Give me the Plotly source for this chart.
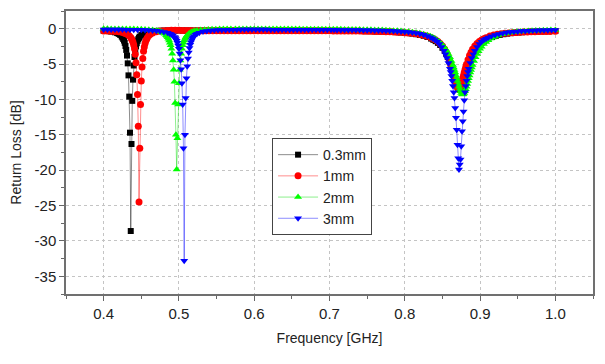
import plotly.graph_objects as go

# ---------------- data (frequency GHz, return loss dB) ----------------
SERIES_NAMES = ["0.3mm", "1mm", "2mm", "3mm"]

S_03MM = [
    (0.400,-0.31),(0.405,-0.34),(0.410,-0.41),(0.415,-0.51),(0.418,-0.62),(0.420,-0.73),(0.422,-0.88),
    (0.424,-1.10),(0.425,-1.25),(0.426,-1.45),(0.427,-1.68),(0.428,-2.00),(0.429,-2.45),(0.430,-3.00),
    (0.431,-3.80),(0.432,-4.90),(0.433,-6.60),(0.434,-9.60),(0.435,-14.70),(0.436,-28.60),(0.437,-16.30),
    (0.438,-10.20),(0.439,-7.20),(0.440,-5.20),(0.441,-4.00),(0.442,-3.10),(0.443,-2.50),(0.444,-2.05),
    (0.445,-1.72),(0.446,-1.48),(0.447,-1.28),(0.448,-1.12),(0.450,-0.90),(0.452,-0.74),(0.455,-0.58),
    (0.460,-0.44),(0.465,-0.37),(0.470,-0.32),(0.475,-0.29),(0.480,-0.27),(0.485,-0.26),(0.490,-0.25),
    (0.495,-0.25),(0.500,-0.25),(0.505,-0.26),(0.510,-0.26),(0.515,-0.27),(0.520,-0.27),(0.525,-0.27),
    (0.530,-0.27),(0.535,-0.27),(0.540,-0.27),(0.545,-0.27),(0.550,-0.27),(0.555,-0.27),(0.560,-0.27),
    (0.565,-0.27),(0.570,-0.27),(0.575,-0.27),(0.580,-0.27),(0.585,-0.27),(0.590,-0.27),(0.595,-0.27),
    (0.600,-0.27),(0.605,-0.27),(0.610,-0.27),(0.615,-0.27),(0.620,-0.28),(0.625,-0.28),(0.630,-0.28),
    (0.635,-0.28),(0.640,-0.28),(0.645,-0.28),(0.650,-0.28),(0.655,-0.28),(0.660,-0.28),(0.665,-0.29),
    (0.670,-0.29),(0.675,-0.29),(0.680,-0.29),(0.685,-0.29),(0.690,-0.29),(0.695,-0.30),(0.700,-0.30),
    (0.705,-0.30),(0.710,-0.30),(0.715,-0.31),(0.720,-0.31),(0.725,-0.31),(0.730,-0.32),(0.735,-0.32),
    (0.740,-0.33),(0.745,-0.34),(0.750,-0.35),(0.755,-0.36),(0.760,-0.38),(0.765,-0.39),(0.770,-0.41),
    (0.775,-0.42),(0.780,-0.44),(0.785,-0.47),(0.790,-0.50),(0.795,-0.54),(0.800,-0.58),(0.805,-0.63),
    (0.810,-0.70),(0.815,-0.78),(0.820,-0.89),(0.825,-1.00),(0.830,-1.17),(0.835,-1.40),(0.838,-1.57),
    (0.841,-1.76),(0.844,-2.00),(0.847,-2.30),(0.850,-2.70),(0.853,-3.15),(0.855,-3.55),(0.857,-4.00),
    (0.859,-4.50),(0.861,-5.10),(0.862,-5.41),(0.863,-5.80),(0.864,-6.12),(0.865,-6.50),(0.866,-6.87),
    (0.867,-7.24),(0.868,-7.60),(0.869,-7.92),(0.870,-8.20),(0.871,-8.42),(0.872,-8.55),(0.873,-8.60),
    (0.874,-8.55),(0.875,-8.42),(0.876,-8.20),(0.877,-7.92),(0.878,-7.60),(0.879,-7.24),(0.880,-6.87),
    (0.881,-6.50),(0.882,-6.12),(0.883,-5.80),(0.884,-5.41),(0.885,-5.10),(0.887,-4.50),(0.889,-4.00),
    (0.891,-3.55),(0.893,-3.15),(0.896,-2.70),(0.899,-2.30),(0.902,-2.00),(0.905,-1.76),(0.908,-1.57),
    (0.911,-1.40),(0.916,-1.17),(0.921,-1.00),(0.926,-0.89),(0.931,-0.78),(0.936,-0.70),(0.941,-0.63),
    (0.946,-0.58),(0.951,-0.54),(0.956,-0.50),(0.961,-0.47),(0.966,-0.44),(0.971,-0.42),(0.976,-0.40),
    (0.981,-0.38),(0.986,-0.37),(0.991,-0.35),(0.996,-0.34),(1.000,-0.33),
]

S_1MM = [
    (0.400,-0.32),(0.405,-0.33),(0.410,-0.36),(0.415,-0.39),(0.420,-0.45),(0.425,-0.55),(0.428,-0.64),
    (0.430,-0.71),(0.432,-0.83),(0.434,-1.00),(0.436,-1.26),(0.437,-1.43),(0.438,-1.64),(0.439,-1.93),
    (0.440,-2.32),(0.441,-2.82),(0.442,-3.60),(0.443,-4.80),(0.444,-6.50),(0.445,-9.30),(0.446,-13.80),
    (0.447,-24.50),(0.448,-16.90),(0.449,-10.70),(0.450,-7.40),(0.451,-5.40),(0.452,-4.20),(0.453,-3.20),
    (0.454,-2.60),(0.455,-2.10),(0.456,-1.72),(0.457,-1.48),(0.458,-1.28),(0.460,-0.98),(0.462,-0.78),
    (0.465,-0.60),(0.470,-0.43),(0.475,-0.34),(0.480,-0.29),(0.485,-0.25),(0.490,-0.23),(0.495,-0.22),
    (0.500,-0.21),(0.505,-0.24),(0.510,-0.26),(0.515,-0.27),(0.520,-0.28),(0.525,-0.29),(0.530,-0.29),
    (0.535,-0.29),(0.540,-0.28),(0.545,-0.28),(0.550,-0.28),(0.555,-0.28),(0.560,-0.28),(0.565,-0.28),
    (0.570,-0.28),(0.575,-0.28),(0.580,-0.28),(0.585,-0.28),(0.590,-0.28),(0.595,-0.28),(0.600,-0.28),
    (0.605,-0.285),(0.610,-0.285),(0.615,-0.285),(0.620,-0.285),(0.625,-0.285),(0.630,-0.285),(0.635,-0.285),
    (0.640,-0.285),(0.645,-0.29),(0.650,-0.29),(0.655,-0.29),(0.660,-0.29),(0.665,-0.29),(0.670,-0.29),
    (0.675,-0.30),(0.680,-0.30),(0.685,-0.30),(0.690,-0.30),(0.695,-0.30),(0.700,-0.30),(0.705,-0.31),
    (0.710,-0.315),(0.715,-0.32),(0.720,-0.32),(0.725,-0.33),(0.730,-0.33),(0.735,-0.34),(0.740,-0.34),
    (0.745,-0.35),(0.750,-0.36),(0.755,-0.37),(0.760,-0.38),(0.765,-0.39),(0.770,-0.405),(0.775,-0.42),
    (0.780,-0.44),(0.785,-0.46),(0.790,-0.49),(0.795,-0.52),(0.800,-0.56),(0.805,-0.60),(0.810,-0.66),
    (0.815,-0.73),(0.820,-0.82),(0.825,-0.93),(0.830,-1.08),(0.835,-1.27),(0.838,-1.42),(0.841,-1.60),
    (0.844,-1.82),(0.847,-2.08),(0.850,-2.45),(0.853,-2.92),(0.855,-3.33),(0.857,-3.80),(0.859,-4.38),
    (0.861,-5.04),(0.862,-5.40),(0.863,-5.79),(0.864,-6.20),(0.865,-6.60),(0.866,-7.00),(0.867,-7.40),
    (0.868,-7.75),(0.869,-8.06),(0.870,-8.27),(0.871,-8.39),(0.872,-8.39),(0.873,-8.27),(0.874,-8.06),
    (0.875,-7.75),(0.876,-7.40),(0.877,-7.00),(0.878,-6.60),(0.879,-6.20),(0.880,-5.79),(0.881,-5.40),
    (0.882,-5.04),(0.884,-4.38),(0.886,-3.80),(0.888,-3.33),(0.890,-2.92),(0.893,-2.45),(0.896,-2.08),
    (0.899,-1.82),(0.902,-1.60),(0.905,-1.42),(0.908,-1.27),(0.913,-1.05),(0.918,-0.90),(0.923,-0.80),
    (0.928,-0.72),(0.933,-0.66),(0.938,-0.61),(0.943,-0.57),(0.948,-0.54),(0.953,-0.51),(0.958,-0.48),
    (0.963,-0.46),(0.968,-0.44),(0.973,-0.425),(0.978,-0.41),(0.983,-0.40),(0.988,-0.39),(0.993,-0.38),
    (1.000,-0.37),
]

S_2MM = [
    (0.400,-0.02),(0.405,-0.02),(0.410,-0.03),(0.415,-0.03),(0.420,-0.04),(0.425,-0.04),(0.430,-0.05),
    (0.435,-0.06),(0.440,-0.06),(0.445,-0.07),(0.450,-0.08),(0.455,-0.10),(0.460,-0.14),(0.465,-0.19),
    (0.470,-0.26),(0.473,-0.33),(0.475,-0.39),(0.477,-0.48),(0.479,-0.59),(0.481,-0.73),(0.483,-0.94),
    (0.484,-1.05),(0.485,-1.22),(0.486,-1.42),(0.487,-1.66),(0.488,-1.97),(0.489,-2.35),(0.490,-2.85),
    (0.491,-3.55),(0.492,-4.50),(0.493,-5.80),(0.494,-7.50),(0.495,-10.50),(0.496,-15.00),(0.497,-19.90),
    (0.498,-15.50),(0.499,-10.70),(0.500,-7.70),(0.501,-5.80),(0.502,-4.50),(0.503,-3.55),(0.504,-2.85),
    (0.505,-2.35),(0.506,-1.97),(0.507,-1.66),(0.508,-1.42),(0.509,-1.22),(0.510,-1.05),(0.511,-0.95),
    (0.513,-0.73),(0.515,-0.59),(0.517,-0.48),(0.519,-0.39),(0.521,-0.33),(0.524,-0.26),(0.529,-0.19),
    (0.534,-0.14),(0.539,-0.10),(0.544,-0.08),(0.549,-0.07),(0.554,-0.06),(0.559,-0.06),(0.564,-0.05),
    (0.569,-0.04),(0.575,-0.04),(0.580,-0.04),(0.585,-0.04),(0.590,-0.04),(0.595,-0.04),(0.600,-0.04),
    (0.605,-0.04),(0.610,-0.04),(0.615,-0.04),(0.620,-0.045),(0.625,-0.045),(0.630,-0.05),(0.635,-0.05),
    (0.640,-0.05),(0.645,-0.055),(0.650,-0.055),(0.655,-0.06),(0.660,-0.06),(0.665,-0.065),(0.670,-0.065),
    (0.675,-0.07),(0.680,-0.07),(0.685,-0.075),(0.690,-0.08),(0.695,-0.08),(0.700,-0.085),(0.705,-0.09),
    (0.710,-0.09),(0.715,-0.09),(0.720,-0.10),(0.725,-0.10),(0.730,-0.11),(0.735,-0.12),(0.740,-0.125),
    (0.745,-0.135),(0.750,-0.145),(0.755,-0.16),(0.760,-0.17),(0.765,-0.185),(0.770,-0.20),(0.775,-0.22),
    (0.780,-0.245),(0.785,-0.275),(0.790,-0.30),(0.795,-0.34),(0.800,-0.38),(0.805,-0.43),(0.810,-0.49),
    (0.815,-0.57),(0.820,-0.66),(0.825,-0.78),(0.830,-0.93),(0.834,-1.08),(0.837,-1.22),(0.840,-1.40),
    (0.843,-1.62),(0.846,-1.88),(0.849,-2.18),(0.852,-2.56),(0.854,-2.85),(0.856,-3.18),(0.858,-3.58),
    (0.860,-4.02),(0.862,-4.55),(0.864,-5.15),(0.865,-5.49),(0.866,-5.84),(0.867,-6.21),(0.868,-6.60),
    (0.869,-7.00),(0.870,-7.41),(0.871,-7.81),(0.872,-8.20),(0.873,-8.55),(0.874,-8.86),(0.875,-9.10),
    (0.876,-9.25),(0.877,-9.30),(0.878,-9.25),(0.879,-9.10),(0.880,-8.86),(0.881,-8.55),(0.882,-8.20),
    (0.883,-7.81),(0.884,-7.41),(0.885,-7.00),(0.886,-6.60),(0.887,-6.21),(0.888,-5.84),(0.889,-5.49),
    (0.890,-5.15),(0.892,-4.55),(0.894,-4.02),(0.896,-3.58),(0.898,-3.18),(0.900,-2.85),(0.902,-2.56),
    (0.905,-2.18),(0.908,-1.88),(0.911,-1.62),(0.914,-1.40),(0.917,-1.24),(0.920,-1.10),(0.924,-0.95),
    (0.929,-0.80),(0.934,-0.68),(0.939,-0.59),(0.944,-0.51),(0.949,-0.45),(0.954,-0.40),(0.959,-0.36),
    (0.964,-0.32),(0.969,-0.295),(0.974,-0.265),(0.979,-0.24),(0.984,-0.22),(0.989,-0.205),(0.994,-0.19),
    (1.000,-0.18),
]

S_3MM = [
    (0.400,-0.12),(0.405,-0.12),(0.410,-0.12),(0.415,-0.125),(0.420,-0.13),(0.425,-0.13),(0.430,-0.135),
    (0.435,-0.14),(0.440,-0.14),(0.445,-0.15),(0.450,-0.16),(0.455,-0.18),(0.460,-0.21),(0.465,-0.25),
    (0.470,-0.30),(0.475,-0.37),(0.480,-0.46),(0.485,-0.58),(0.488,-0.70),(0.490,-0.81),(0.492,-0.96),
    (0.494,-1.17),(0.495,-1.31),(0.496,-1.49),(0.497,-1.71),(0.498,-1.99),(0.499,-2.36),(0.500,-2.85),
    (0.501,-3.52),(0.502,-4.45),(0.503,-5.75),(0.504,-7.70),(0.505,-10.70),(0.506,-16.90),(0.507,-32.80),
    (0.508,-15.00),(0.509,-9.80),(0.510,-7.00),(0.511,-5.30),(0.512,-4.20),(0.513,-3.35),(0.514,-2.73),
    (0.515,-2.27),(0.516,-1.92),(0.517,-1.65),(0.518,-1.40),(0.519,-1.22),(0.520,-1.08),(0.522,-0.87),
    (0.524,-0.72),(0.527,-0.56),(0.532,-0.40),(0.537,-0.31),(0.542,-0.26),(0.547,-0.23),(0.552,-0.20),
    (0.557,-0.18),(0.562,-0.17),(0.567,-0.16),(0.572,-0.15),(0.577,-0.14),(0.582,-0.13),(0.587,-0.13),
    (0.592,-0.13),(0.597,-0.13),(0.602,-0.13),(0.607,-0.13),(0.612,-0.13),(0.617,-0.13),(0.622,-0.135),
    (0.627,-0.135),(0.632,-0.135),(0.637,-0.14),(0.642,-0.14),(0.647,-0.14),(0.652,-0.145),(0.657,-0.145),
    (0.662,-0.145),(0.667,-0.15),(0.672,-0.15),(0.677,-0.15),(0.682,-0.155),(0.687,-0.155),(0.692,-0.16),
    (0.697,-0.16),(0.702,-0.16),(0.706,-0.16),(0.710,-0.17),(0.715,-0.17),(0.720,-0.18),(0.725,-0.18),
    (0.730,-0.19),(0.735,-0.195),(0.740,-0.20),(0.745,-0.21),(0.750,-0.22),(0.755,-0.23),(0.760,-0.24),
    (0.765,-0.255),(0.770,-0.27),(0.775,-0.285),(0.780,-0.30),(0.785,-0.33),(0.790,-0.36),(0.795,-0.39),
    (0.800,-0.43),(0.805,-0.48),(0.810,-0.54),(0.815,-0.62),(0.820,-0.73),(0.825,-0.86),(0.830,-1.03),
    (0.834,-1.22),(0.837,-1.39),(0.840,-1.59),(0.843,-1.84),(0.846,-2.16),(0.849,-2.60),(0.852,-3.12),
    (0.854,-3.60),(0.856,-4.16),(0.858,-4.86),(0.860,-5.68),(0.861,-6.11),(0.862,-6.69),(0.863,-7.36),
    (0.864,-8.11),(0.865,-9.00),(0.866,-9.80),(0.867,-11.20),(0.868,-12.60),(0.869,-14.30),(0.870,-16.40),
    (0.871,-18.30),(0.872,-19.90),(0.873,-19.20),(0.874,-18.50),(0.875,-16.60),(0.876,-14.50),(0.877,-13.10),
    (0.878,-11.70),(0.879,-10.10),(0.880,-9.00),(0.881,-8.11),(0.882,-7.36),(0.883,-6.69),(0.884,-6.11),
    (0.885,-5.68),(0.887,-4.86),(0.889,-4.16),(0.891,-3.60),(0.893,-3.12),(0.896,-2.60),(0.899,-2.16),
    (0.902,-1.84),(0.905,-1.60),(0.908,-1.41),(0.911,-1.25),(0.915,-1.06),(0.920,-0.89),(0.925,-0.76),
    (0.930,-0.63),(0.935,-0.54),(0.940,-0.47),(0.945,-0.42),(0.950,-0.38),(0.955,-0.34),(0.960,-0.31),
    (0.965,-0.28),(0.970,-0.26),(0.975,-0.25),(0.980,-0.23),(0.985,-0.22),(0.990,-0.21),(0.995,-0.20),
    (1.000,-0.19),
]

X_TICKS = [0.4, 0.5, 0.6, 0.7, 0.8, 0.9, 1.0]
X_TICK_LABELS = ["0.4", "0.5", "0.6", "0.7", "0.8", "0.9", "1.0"]
Y_TICKS = [0, -5, -10, -15, -20, -25, -30, -35]
Y_TICK_LABELS = ["0", "-5", "-10", "-15", "-20", "-25", "-30", "-35"]

# ---------------- styles ----------------
STYLES = [
    dict(color="#000000", line="rgba(0,0,0,0.45)", symbol="square", size=6),
    dict(color="#ff0000", line="rgba(255,0,0,0.45)", symbol="circle", size=7),
    dict(color="#00ff00", line="rgba(0,220,0,0.45)", symbol="triangle-up", size=7),
    dict(color="#0000ff", line="rgba(0,0,255,0.45)", symbol="triangle-down", size=7),
]

fig = go.Figure()
for name, data, st in zip(SERIES_NAMES, [S_03MM, S_1MM, S_2MM, S_3MM], STYLES):
    f = [p[0] for p in data]
    v = [p[1] for p in data]
    fig.add_trace(go.Scatter(
        x=f, y=v, mode="lines+markers", name=name,
        line=dict(color=st["line"], width=1),
        marker=dict(symbol=st["symbol"], size=st["size"], color=st["color"], line=dict(width=0)),
    ))

axis_common = dict(
    ticks="outside", ticklen=5, tickwidth=1, tickcolor="#666",
    showline=True, linecolor="#707070", linewidth=1.5, mirror=True,
    showgrid=True, gridcolor="#c4c4c4", gridwidth=1, griddash="dot",
    zeroline=False, tickfont=dict(size=15, color="#222"),
)

fig.update_xaxes(
    range=[0.35, 1.05], tickmode="array", tickvals=X_TICKS, ticktext=X_TICK_LABELS,
    minor=dict(dtick=0.05, tick0=0.35, ticks="outside", ticklen=3, tickcolor="#666", showgrid=False),
    title=dict(text="Frequency [GHz]", font=dict(size=14, color="#222"), standoff=12),
    **axis_common,
)
fig.update_yaxes(
    range=[-37.5, 2.5], tickmode="array", tickvals=Y_TICKS, ticktext=Y_TICK_LABELS,
    minor=dict(dtick=2.5, tick0=0, ticks="outside", ticklen=3, tickcolor="#666", showgrid=False),
    title=dict(text="Return Loss [dB]", font=dict(size=14, color="#222"), standoff=10),
    **axis_common,
)

fig.update_layout(
    width=605, height=364,
    margin=dict(l=66, r=12, t=9, b=70),
    paper_bgcolor="white", plot_bgcolor="white",
    font=dict(family="Liberation Sans, Arial, sans-serif", color="#222"),
    showlegend=True,
    legend=dict(
        x=0.391, y=0.551, xanchor="left", yanchor="top",
        bgcolor="white", bordercolor="#444", borderwidth=1,
        font=dict(size=14, color="#222"), tracegroupgap=0,
        itemwidth=40,
    ),
)

fig.write_html("out.html")
